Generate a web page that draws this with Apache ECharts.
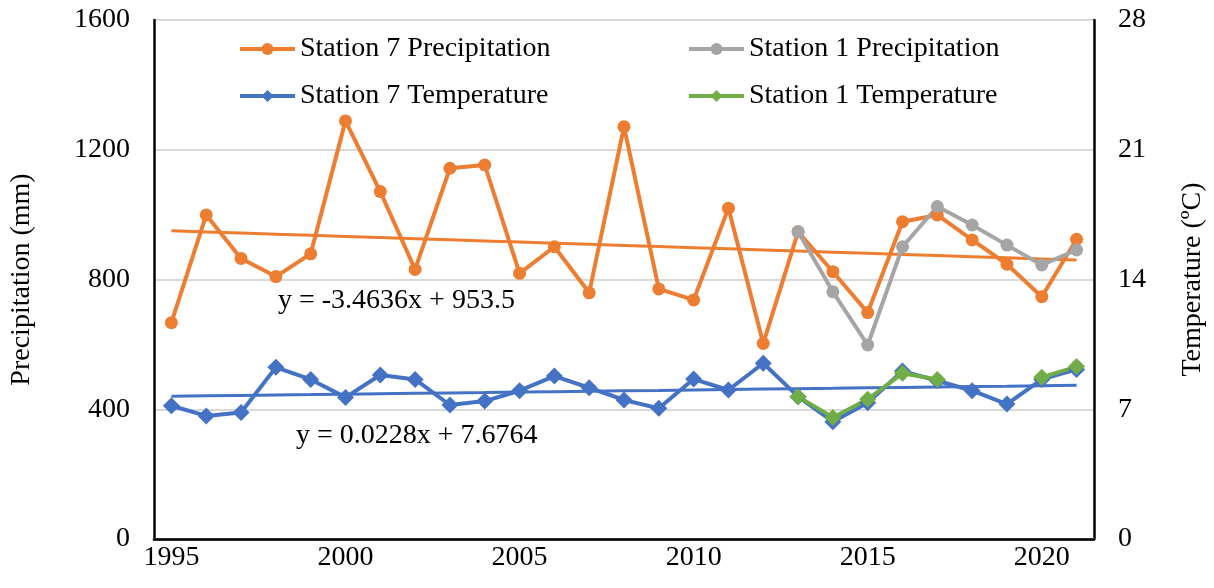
<!DOCTYPE html>
<html>
<head>
<meta charset="utf-8">
<title>Precipitation and Temperature, Stations 7 and 1</title>
<script src="https://cdn.jsdelivr.net/npm/echarts@6/dist/echarts.min.js"></script>
<style>
  html, body { margin: 0; padding: 0; background: #ffffff; }
  #chart { width: 1214px; height: 588px; }
</style>
</head>
<body>
<div id="chart"></div>
<script>
// Years on the category axis
const years = ['1995','1996','1997','1998','1999','2000','2001','2002','2003','2004',
  '2005','2006','2007','2008','2009','2010','2011','2012','2013','2014',
  '2015','2016','2017','2018','2019','2020','2021'];

// Annual precipitation (mm)
const precipStation7 = [667, 999, 865, 809, 879, 1289, 1071, 831, 1143, 1153,
  819, 901, 759, 1271, 771, 737, 1020, 603, 947, 824,
  698, 978, 999, 922, 847, 747, 924];
const precipStation1 = [null, null, null, null, null, null, null, null, null, null,
  null, null, null, null, null, null, null, null, 947, 762,
  598, 901, 1025, 968, 906, 845, 891];

// Mean annual temperature (ºC)
const tempStation7 = [7.19, 6.64, 6.82, 9.26, 8.61, 7.64, 8.85, 8.61, 7.23, 7.44,
  8.00, 8.79, 8.16, 7.50, 7.05, 8.63, 8.04, 9.48, 7.68, 6.33,
  7.35, 9.06, 8.54, 8.00, 7.28, 8.61, 9.15];
const tempStation1 = [null, null, null, null, null, null, null, null, null, null,
  null, null, null, null, null, null, null, null, 7.68, 6.56,
  7.54, 8.94, 8.60, null, null, 8.72, 9.30];

// Linear trend coefficients (x = 1 for the first year)
const precipTrend = { slope: -3.4636, intercept: 953.5 };
const tempTrend = { slope: 0.0228, intercept: 7.6764 };

// Axis ticks
const precipTicks = [0, 400, 800, 1200, 1600];
const tempTicks = [0, 7, 14, 21, 28];

const FONT = '"Liberation Serif", "Times New Roman", serif';
const ORANGE = '#ED7D31', GREY = '#A5A5A5', BLUE = '#4472C4', GREEN = '#70AD47';

function trendValues(t) {
  return years.map((_, i) => +(t.slope * (i + 1) + t.intercept).toFixed(3));
}
function equationText(t) {
  const sign = t.intercept < 0 ? '-' : '+';
  return 'y = ' + t.slope + 'x ' + sign + ' ' + Math.abs(t.intercept);
}

const chart = echarts.init(document.getElementById('chart'), null, { renderer: 'canvas' });

function legendAt(name, left, top) {
  return {
    data: [name], left: left, top: top, padding: 0,
    itemWidth: 55, itemHeight: 15, itemGap: 4,
    lineStyle: { width: 4 },
    textStyle: { fontFamily: FONT, fontSize: 28, color: '#000' }
  };
}

const lineBase = { type: 'line', symbolSize: 13, z: 3 };

chart.setOption({
  animation: false,
  backgroundColor: '#ffffff',
  textStyle: { fontFamily: FONT },
  grid: { left: 154, right: 120, top: 20, bottom: 49, containLabel: false, outerBoundsMode: 'none' },
  legend: [
    legendAt('Station 7 Precipitation', 238, 35),
    legendAt('Station 1 Precipitation', 687, 35),
    legendAt('Station 7 Temperature', 238, 82),
    legendAt('Station 1 Temperature', 687, 82)
  ],
  xAxis: [
    {
      type: 'category', data: years, boundaryGap: true, position: 'bottom',
      axisLine: { show: true, lineStyle: { color: '#bfbfbf', width: 3 } },
      axisTick: { show: false },
      axisLabel: { interval: 4, fontFamily: FONT, fontSize: 28, color: '#000', margin: 5 },
      splitLine: { show: false }
    },
    {
      type: 'category', data: years, position: 'top',
      axisLine: { show: true, lineStyle: { color: '#000', width: 2.5 } },
      axisTick: { show: false }, axisLabel: { show: false }, splitLine: { show: false }
    }
  ],
  yAxis: [
    {
      type: 'value', min: precipTicks[0], max: precipTicks[precipTicks.length - 1],
      interval: precipTicks[1] - precipTicks[0], position: 'left',
      name: 'Precipitation (mm)', nameLocation: 'middle', nameGap: 118, nameRotate: 90,
      nameTextStyle: { fontFamily: FONT, fontSize: 28, color: '#000' },
      axisLine: { show: true, lineStyle: { color: '#000', width: 2.5 } },
      axisTick: { show: false },
      axisLabel: { fontFamily: FONT, fontSize: 28, color: '#000', margin: 24,
        formatter: v => String(v) },
      splitLine: { show: true, lineStyle: { color: '#d9d9d9', width: 2 } }
    },
    {
      type: 'value', min: tempTicks[0], max: tempTicks[tempTicks.length - 1],
      interval: tempTicks[1] - tempTicks[0], position: 'right',
      name: 'Temperature (ºC)', nameLocation: 'middle', nameGap: 85, nameRotate: 90,
      nameTextStyle: { fontFamily: FONT, fontSize: 28, color: '#000' },
      axisLine: { show: true, lineStyle: { color: '#000', width: 2.5 } },
      axisTick: { show: false },
      axisLabel: { fontFamily: FONT, fontSize: 28, color: '#000', margin: 24,
        formatter: v => String(v) },
      splitLine: { show: false }
    }
  ],
  series: [
    Object.assign({}, lineBase, {
      name: 'Station 7 Precipitation', yAxisIndex: 0, data: precipStation7,
      symbol: 'circle', itemStyle: { color: ORANGE }, lineStyle: { width: 4, color: ORANGE }
    }),
    Object.assign({}, lineBase, {
      name: 'Station 1 Precipitation', yAxisIndex: 0, data: precipStation1,
      symbol: 'circle', itemStyle: { color: GREY }, lineStyle: { width: 4, color: GREY }
    }),
    Object.assign({}, lineBase, {
      name: 'Station 7 Temperature', yAxisIndex: 1, data: tempStation7,
      symbol: 'diamond', symbolSize: 17, itemStyle: { color: BLUE }, lineStyle: { width: 4, color: BLUE }
    }),
    Object.assign({}, lineBase, {
      name: 'Station 1 Temperature', yAxisIndex: 1, data: tempStation1,
      symbol: 'diamond', symbolSize: 17, connectNulls: false,
      itemStyle: { color: GREEN }, lineStyle: { width: 4, color: GREEN }
    }),
    {
      name: 'Precipitation trend', type: 'line', yAxisIndex: 0, data: trendValues(precipTrend),
      showSymbol: false, symbol: 'none', lineStyle: { width: 3, color: ORANGE }, z: 2
    },
    {
      name: 'Temperature trend', type: 'line', yAxisIndex: 1, data: trendValues(tempTrend),
      showSymbol: false, symbol: 'none', lineStyle: { width: 3, color: BLUE }, z: 2
    }
  ],
  graphic: [
    {
      type: 'text', left: 278, top: 287, z: 10,
      style: { text: equationText(precipTrend), font: '28px ' + FONT, fill: '#000' }
    },
    {
      type: 'text', left: 296, top: 422, z: 10,
      style: { text: equationText(tempTrend), font: '28px ' + FONT, fill: '#000' }
    }
  ]
});
</script>
</body>
</html>
